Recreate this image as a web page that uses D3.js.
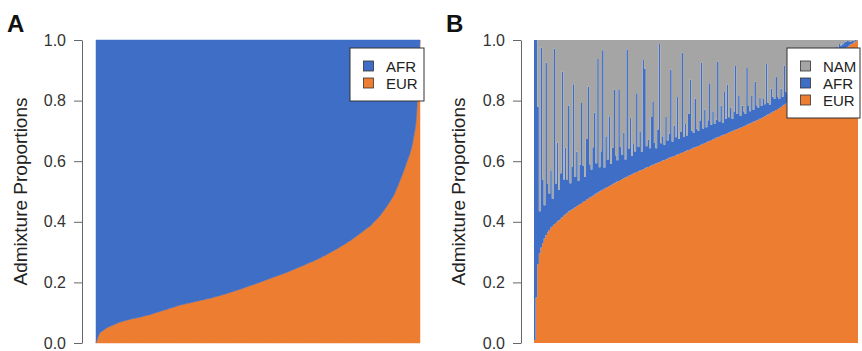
<!DOCTYPE html>
<html>
<head>
<meta charset="utf-8">
<script src="https://cdn.jsdelivr.net/npm/d3@7"></script>
<style>
  body { margin: 0; background: #fff; }
  svg { display: block; font-family: "Liberation Sans", Arial, sans-serif; }
</style>
</head>
<body>
<div id="chart"></div>
<script>
// Panel A: individuals sorted by EUR proportion (AFR is the rest)
const eurA = [
  0.000, 0.030, 0.040, 0.048, 0.054, 0.058, 0.063, 0.068, 0.071, 0.074,
  0.077, 0.080, 0.082, 0.084, 0.087, 0.090, 0.092, 0.095, 0.099, 0.102,
  0.106, 0.109, 0.112, 0.116, 0.119, 0.123, 0.126, 0.128, 0.131, 0.133,
  0.136, 0.138, 0.141, 0.143, 0.146, 0.148, 0.151, 0.154, 0.157, 0.160,
  0.163, 0.167, 0.170, 0.174, 0.177, 0.181, 0.185, 0.189, 0.192, 0.196,
  0.200, 0.204, 0.208, 0.212, 0.216, 0.220, 0.224, 0.228, 0.232, 0.236,
  0.241, 0.245, 0.250, 0.254, 0.259, 0.264, 0.268, 0.273, 0.278, 0.284,
  0.289, 0.295, 0.301, 0.307, 0.313, 0.320, 0.326, 0.333, 0.340, 0.348,
  0.356, 0.364, 0.372, 0.380, 0.388, 0.400, 0.410, 0.423, 0.438, 0.453,
  0.470, 0.488, 0.512, 0.540, 0.567, 0.598, 0.628, 0.675, 0.760, 1.000
];

// Panel B: individuals sorted by EUR proportion, with their AFR proportion
const eurB = [
  0.010, 0.150, 0.260, 0.295, 0.315, 0.330, 0.345, 0.356, 0.365, 0.373,
  0.380, 0.386, 0.391, 0.396, 0.401, 0.405, 0.410, 0.415, 0.420, 0.425,
  0.430, 0.434, 0.437, 0.441, 0.444, 0.448, 0.452, 0.455, 0.459, 0.462,
  0.466, 0.469, 0.473, 0.476, 0.480, 0.483, 0.486, 0.490, 0.493, 0.497,
  0.500, 0.503, 0.506, 0.509, 0.512, 0.515, 0.518, 0.521, 0.524, 0.527,
  0.530, 0.533, 0.535, 0.538, 0.541, 0.544, 0.546, 0.549, 0.552, 0.554,
  0.557, 0.559, 0.562, 0.564, 0.567, 0.569, 0.571, 0.574, 0.576, 0.579,
  0.581, 0.583, 0.586, 0.588, 0.590, 0.593, 0.595, 0.597, 0.599, 0.602,
  0.604, 0.606, 0.608, 0.611, 0.613, 0.615, 0.617, 0.619, 0.622, 0.624,
  0.626, 0.628, 0.630, 0.633, 0.635, 0.637, 0.639, 0.641, 0.644, 0.646,
  0.648, 0.650, 0.653, 0.655, 0.658, 0.660, 0.662, 0.665, 0.667, 0.670,
  0.672, 0.674, 0.677, 0.679, 0.681, 0.684, 0.686, 0.688, 0.690, 0.693,
  0.695, 0.697, 0.699, 0.702, 0.704, 0.706, 0.708, 0.710, 0.713, 0.715,
  0.717, 0.720, 0.722, 0.725, 0.727, 0.730, 0.732, 0.735, 0.737, 0.740,
  0.742, 0.745, 0.748, 0.751, 0.754, 0.757, 0.760, 0.763, 0.766, 0.769,
  0.772, 0.775, 0.779, 0.783, 0.786, 0.790, 0.794, 0.799, 0.803, 0.808,
  0.812, 0.817, 0.822, 0.826, 0.831, 0.836, 0.841, 0.846, 0.851, 0.855,
  0.860, 0.866, 0.872, 0.877, 0.883, 0.889, 0.895, 0.901, 0.907, 0.912,
  0.918, 0.923, 0.928, 0.933, 0.938, 0.942, 0.947, 0.952, 0.957, 0.962,
  0.966, 0.970, 0.974, 0.977, 0.981, 0.985, 0.988, 0.992, 0.996, 0.999
];
const afrB = [
  0.99, 0.85, 0.52, 0.14, 0.66, 0.21, 0.11, 0.57, 0.16, 0.12,
  0.19, 0.09, 0.58, 0.13, 0.26, 0.10, 0.15, 0.48, 0.12, 0.22,
  0.11, 0.35, 0.09, 0.14, 0.41, 0.10, 0.18, 0.08, 0.13, 0.33,
  0.12, 0.08, 0.20, 0.37, 0.11, 0.09, 0.16, 0.27, 0.10, 0.44,
  0.08, 0.13, 0.46, 0.07, 0.17, 0.09, 0.23, 0.07, 0.12, 0.31,
  0.09, 0.07, 0.30, 0.11, 0.08, 0.15, 0.06, 0.42, 0.09, 0.19,
  0.06, 0.10, 0.07, 0.26, 0.08, 0.13, 0.06, 0.36, 0.33, 0.07,
  0.09, 0.06, 0.16, 0.21, 0.07, 0.05, 0.11, 0.39, 0.06, 0.08,
  0.05, 0.14, 0.06, 0.08, 0.29, 0.05, 0.10, 0.06, 0.19, 0.05,
  0.07, 0.33, 0.05, 0.09, 0.05, 0.12, 0.23, 0.06, 0.05, 0.16,
  0.06, 0.05, 0.08, 0.27, 0.05, 0.11, 0.05, 0.07, 0.19, 0.05,
  0.09, 0.05, 0.06, 0.25, 0.05, 0.10, 0.04, 0.14, 0.05, 0.16,
  0.05, 0.08, 0.04, 0.06, 0.21, 0.05, 0.11, 0.04, 0.07, 0.05,
  0.04, 0.19, 0.06, 0.04, 0.09, 0.04, 0.13, 0.05, 0.04, 0.07,
  0.04, 0.06, 0.04, 0.17, 0.04, 0.03, 0.08, 0.05, 0.04, 0.11,
  0.04, 0.03, 0.06, 0.03, 0.13, 0.04, 0.03, 0.07, 0.03, 0.04,
  0.03, 0.05, 0.03, 0.10, 0.03, 0.04, 0.03, 0.06, 0.04, 0.03,
  0.03, 0.05, 0.03, 0.03, 0.07, 0.03, 0.03, 0.05, 0.03, 0.03,
  0.03, 0.03, 0.02, 0.04, 0.03, 0.02, 0.03, 0.02, 0.03, 0.02,
  0.02, 0.02, 0.02, 0.02, 0.015, 0.01, 0.01, 0.005, 0.004, 0.001
];

const yTicks = [0, 0.2, 0.4, 0.6, 0.8, 1.0];
const colors = { NAM: "#a5a5a5", AFR: "#3e6ec5", EUR: "#ed7d31" };

const svg = d3.select("#chart")
  .append("svg")
  .attr("width", 862)
  .attr("height", 351);

const y = d3.scaleLinear().domain([0, 1]).range([343, 40]);

function drawAxis(p) {
  const g = svg.append("g")
    .attr("transform", `translate(${p.axisX},0)`)
    .call(d3.axisLeft(y)
      .tickValues(yTicks)
      .tickFormat(d3.format(".1f"))
      .tickSize(8)
      .tickSizeOuter(0)
      .tickPadding(8));
  g.select(".domain").attr("stroke", "#666");
  g.selectAll(".tick line").attr("stroke", "#666");
  g.selectAll(".tick text")
    .attr("fill", "#333")
    .style("font-size", "16px");

  // y label
  svg.append("text")
    .attr("transform", `translate(${p.labelX},${(y(0) + y(1)) / 2}) rotate(-90)`)
    .attr("text-anchor", "middle")
    .attr("fill", "#222")
    .style("font-size", "19px")
    .text("Admixture Proportions");

  // panel letter
  svg.append("text")
    .attr("x", p.letterX)
    .attr("y", 32)
    .attr("fill", "#111")
    .style("font-size", "24px")
    .style("font-weight", "bold")
    .text(p.letter);
}

function drawLegend(p, keys) {
  const g = svg.append("g");
  g.append("rect")
    .attr("x", p.legX)
    .attr("y", 48)
    .attr("width", p.legW)
    .attr("height", 19 + keys.length * 17)
    .attr("fill", "#fff")
    .attr("stroke", "#333")
    .attr("stroke-width", 1);
  keys.forEach((k, i) => {
    const cy = 66 + i * 17;
    g.append("rect")
      .attr("x", p.legX + 13.5)
      .attr("y", cy - 5)
      .attr("width", 10)
      .attr("height", 10)
      .attr("fill", colors[k])
      .attr("stroke", "#333")
      .attr("stroke-width", 0.8);
    g.append("text")
      .attr("x", p.legX + 36)
      .attr("y", cy + 5.5)
      .attr("fill", "#222")
      .style("font-size", "15px")
      .text(k);
  });
}

// ---- Panel A ----
const panelA = { axisX: 82, x0: 96, x1: 420, labelX: 27, letterX: 7, letter: "A", legX: 350, legW: 74 };
const rowsA = eurA.map((e) => ({ EUR: e, AFR: 1 - e }));
const stackA = d3.stack().keys(["EUR", "AFR"])(rowsA);
const xA = d3.scaleLinear().domain([0, eurA.length - 1]).range([panelA.x0, panelA.x1]);

const areaA = d3.area()
  .x((d, i) => xA(i))
  .y0((d) => y(d[0]))
  .y1((d) => y(d[1]))
  .curve(d3.curveMonotoneX);

svg.append("g")
  .selectAll("path")
  .data(stackA)
  .enter()
  .append("path")
  .attr("d", areaA)
  .attr("fill", (d) => colors[d.key])
  .attr("stroke", (d) => colors[d.key])
  .attr("stroke-width", 0.5);

drawAxis(panelA);
drawLegend(panelA, ["AFR", "EUR"]);

// ---- Panel B ----
const panelB = { axisX: 521, x0: 534, x1: 858, labelX: 465, letterX: 446, letter: "B", legX: 787, legW: 73 };
// NAM is whatever is left after EUR and AFR
const rowsB = eurB.map((e, i) => ({ EUR: e, AFR: afrB[i], NAM: Math.max(0, 1 - e - afrB[i]) }));
const stackB = d3.stack().keys(["EUR", "AFR", "NAM"])(rowsB);
const nB = eurB.length;
const xB = d3.scaleLinear().domain([0, nB]).range([panelB.x0, panelB.x1]);

const areaB = d3.area()
  .x((d) => xB(d.i))
  .y0((d) => y(d.y0))
  .y1((d) => y(d.y1))
  .curve(d3.curveStepAfter);

svg.append("g")
  .selectAll("path")
  .data(stackB)
  .enter()
  .append("path")
  .attr("d", (s) => {
    const pts = s.map((d, i) => ({ i: i, y0: d[0], y1: d[1] }));
    // close the last individual's column
    pts.push({ i: nB, y0: pts[nB - 1].y0, y1: pts[nB - 1].y1 });
    return areaB(pts);
  })
  .attr("fill", (d) => colors[d.key]);

drawAxis(panelB);
drawLegend(panelB, ["NAM", "AFR", "EUR"]);
</script>
</body>
</html>
